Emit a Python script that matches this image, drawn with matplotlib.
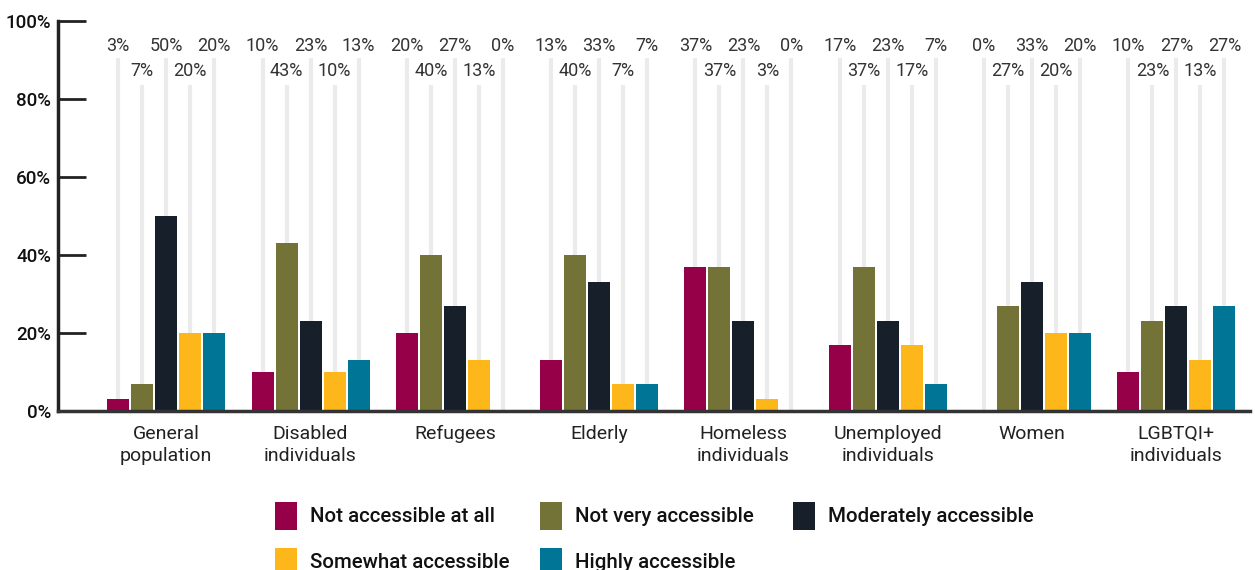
import matplotlib
matplotlib.use("Agg")
import matplotlib.pyplot as plt
from matplotlib.patches import Rectangle
import numpy as np

plt.rcParams['font.family'] = ['Roboto', 'DejaVu Sans']

categories = ["General\npopulation", "Disabled\nindividuals", "Refugees", "Elderly",
              "Homeless\nindividuals", "Unemployed\nindividuals", "Women", "LGBTQI+\nindividuals"]
series = ["Not accessible at all", "Not very accessible", "Moderately accessible",
          "Somewhat accessible", "Highly accessible"]
not_at_all = [3, 10, 20, 13, 37, 17, 0, 10]
not_very = [7, 43, 40, 40, 37, 37, 27, 23]
moderately = [50, 23, 27, 33, 23, 23, 33, 27]
somewhat = [20, 10, 13, 7, 3, 17, 20, 13]
highly = [20, 13, 0, 7, 0, 7, 20, 27]
values = [not_at_all, not_very, moderately, somewhat, highly]
colors = ["#960048", "#737337", "#17202a", "#fdb71a", "#007596"]
yticks = [0, 20, 40, 60, 80, 100]

W, H = 1255, 570
fig = plt.figure(figsize=(W/100, H/100), dpi=100)
ax = fig.add_axes([58/W, 1-411/H, (1250-58)/W, 390/H])

x = np.arange(len(categories))
pitch = 24/144.3
width = 22/144.3
line_tops = [90.5, 83.6]
label_y = [93.6, 87.2]
for j, (vals, col) in enumerate(zip(values, colors)):
    xs = x + (j - 2) * pitch
    ax.vlines(xs, 0, line_tops[j % 2], color="#ebebeb", lw=3, zorder=1)
    ax.bar(xs, vals, width=width, color=col, zorder=2)
    for xi, v in zip(xs, vals):
        ax.text(xi, label_y[j % 2], f"{v}%", ha="center", va="center",
                fontsize=13, color="#333333", zorder=3)

ax.set_xlim(-0.75, 7.51)
ax.set_ylim(0, 100)
ax.set_yticks(yticks)
ax.set_yticklabels([f"{t}%" for t in yticks], fontsize=13.5, fontweight="medium", color="#111111")
ax.tick_params(axis="y", direction="in", length=20, width=2, color="#222222", pad=5)
ax.set_xticks(x)
ax.set_xticklabels(categories, fontsize=14, color="#222222", linespacing=1.3)
ax.tick_params(axis="x", length=0, pad=10)
for s in ["top", "right"]:
    ax.spines[s].set_visible(False)
ax.spines["left"].set_linewidth(2.5)
ax.spines["left"].set_color("#222222")
ax.spines["bottom"].set_linewidth(2.5)
ax.spines["bottom"].set_color("#333333")

# legend, drawn manually in figure pixels
leg_pos = [(275, 502), (540, 502), (793, 502), (275, 548), (540, 548)]
for (px, py), name, col in zip(leg_pos, series, colors):
    fig.patches.append(Rectangle((px/W, 1-(py+28)/H), 22/W, 28/H,
                                 transform=fig.transFigure, facecolor=col,
                                 edgecolor="none"))
    fig.text((px+35)/W, 1-(py+14)/H, name, ha="left", va="center",
             fontsize=14.8, fontweight="medium", color="#111111")

fig.savefig("out.png", dpi=100)
